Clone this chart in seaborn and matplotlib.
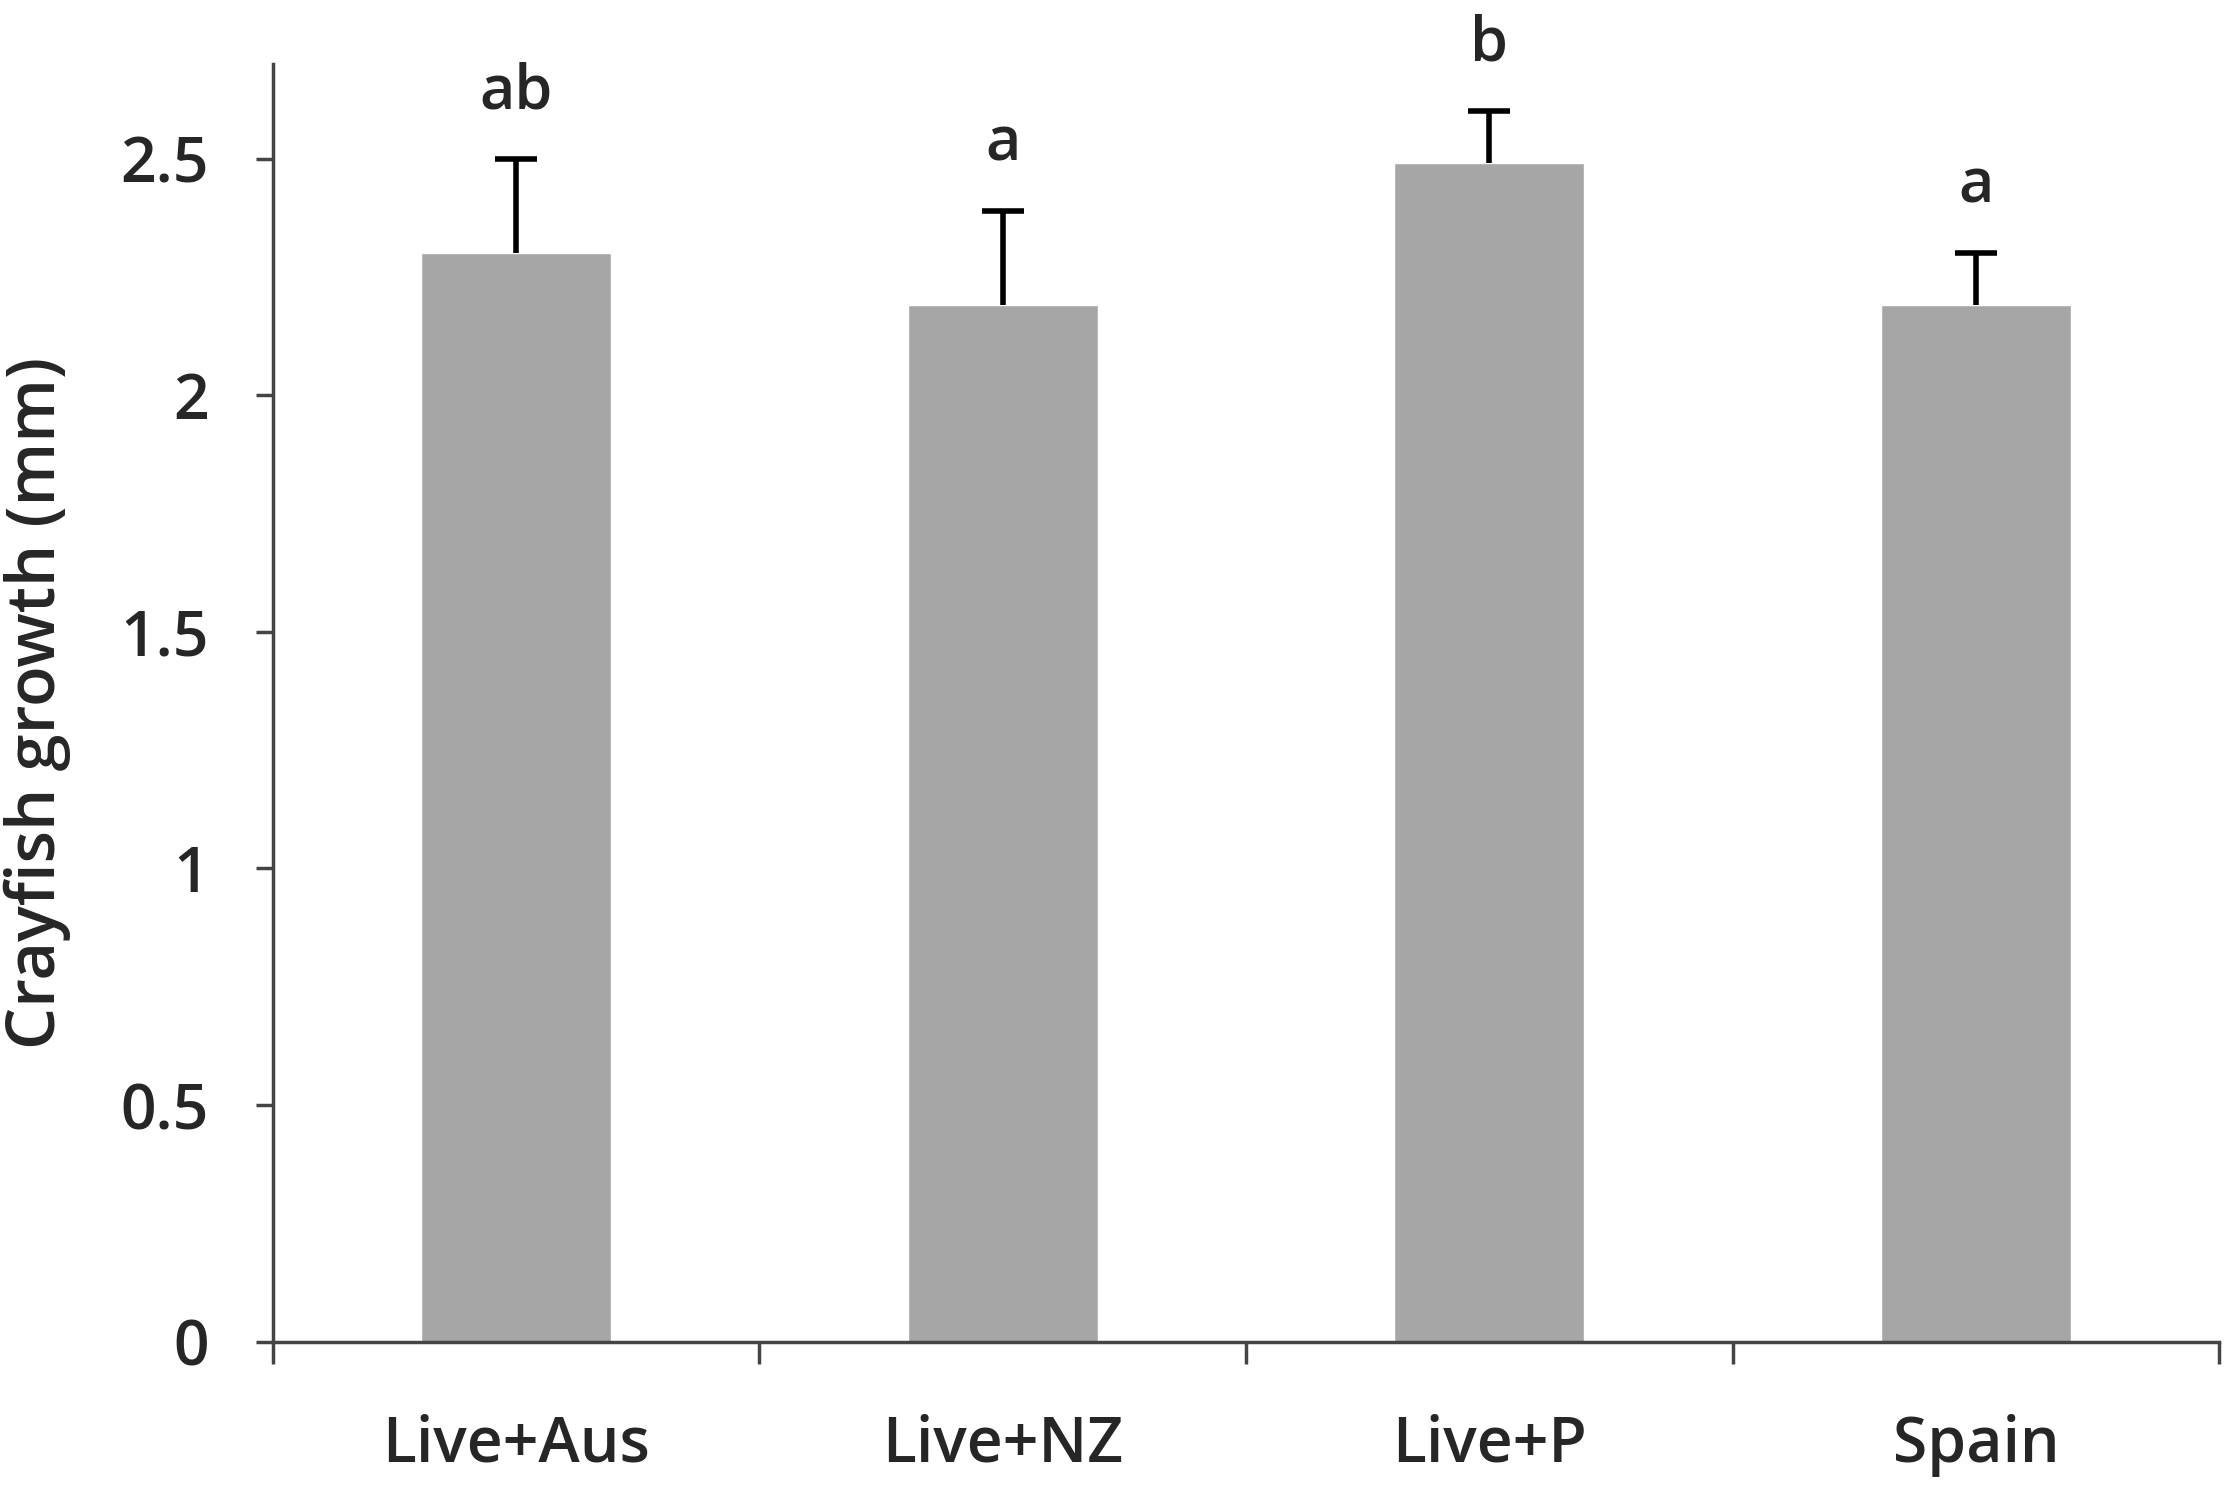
import numpy as np
import pandas as pd
import matplotlib
matplotlib.use('Agg')
import matplotlib.pyplot as plt
import seaborn as sns

# values
groups = ['Live+Aus', 'Live+NZ', 'Live+P', 'Spain']
growth = [2.30, 2.19, 2.49, 2.19]
growth_se = [0.20, 0.20, 0.11, 0.11]
letters = ['ab', 'a', 'b', 'a']
yticks = [0, 0.5, 1, 1.5, 2, 2.5]
ytick_labels = ['0', '0.5', '1', '1.5', '2', '2.5']

df = pd.DataFrame({'group': groups, 'growth': growth, 'se': growth_se})

sns.set_style('white')
plt.rcParams['font.family'] = ['Open Sans', 'DejaVu Sans']

fig = plt.figure(figsize=(22.28, 14.89), dpi=100)
ax = fig.add_axes([0.1225, 0.099, 0.8735, 0.858])

sns.barplot(data=df, x='group', y='growth', color='#a6a6a6', saturation=1,
            width=0.39, errorbar=None, ax=ax)

pos = np.arange(len(groups))
eb = ax.errorbar(pos, df['growth'], yerr=[np.zeros(len(df)), df['se']], fmt='none',
                 ecolor='black', elinewidth=4, capsize=15, capthick=4)
eb[1][0].set_visible(False)  # only the upper cap, like the original

# significance letters
for x, m, s, t in zip(pos, df['growth'], df['se'], letters):
    ax.text(x, m + s + 0.075, t, ha='center', va='bottom', fontsize=44,
            fontweight='semibold')

ax.set_xlim(-0.5, len(groups) - 0.5)
ax.set_ylim(0, 2.7)
ax.set_yticks(yticks)
ax.set_yticklabels(ytick_labels)
ax.set_xticks(np.arange(len(groups) + 1) - 0.5, minor=True)
ax.set_xlabel('')
ax.set_ylabel('Crayfish growth (mm)', fontsize=48, fontweight='semibold')
ax.yaxis.set_label_coords(-0.104, 0.5)

sns.despine(ax=ax)
for sp in ['left', 'bottom']:
    ax.spines[sp].set_color('#444444')
    ax.spines[sp].set_linewidth(2.5)

ax.tick_params(axis='y', which='major', left=True, direction='out', length=12,
               width=2.5, color='#444444', pad=34, labelsize=45)
ax.tick_params(axis='x', which='major', bottom=True, length=0, pad=52,
               labelsize=45)
ax.tick_params(axis='x', which='minor', bottom=True, direction='out', length=16,
               width=2.5, color='#444444')
for lab in ax.get_xticklabels() + ax.get_yticklabels():
    lab.set_fontweight('semibold')

fig.savefig('out.png', dpi=100, facecolor='white')
